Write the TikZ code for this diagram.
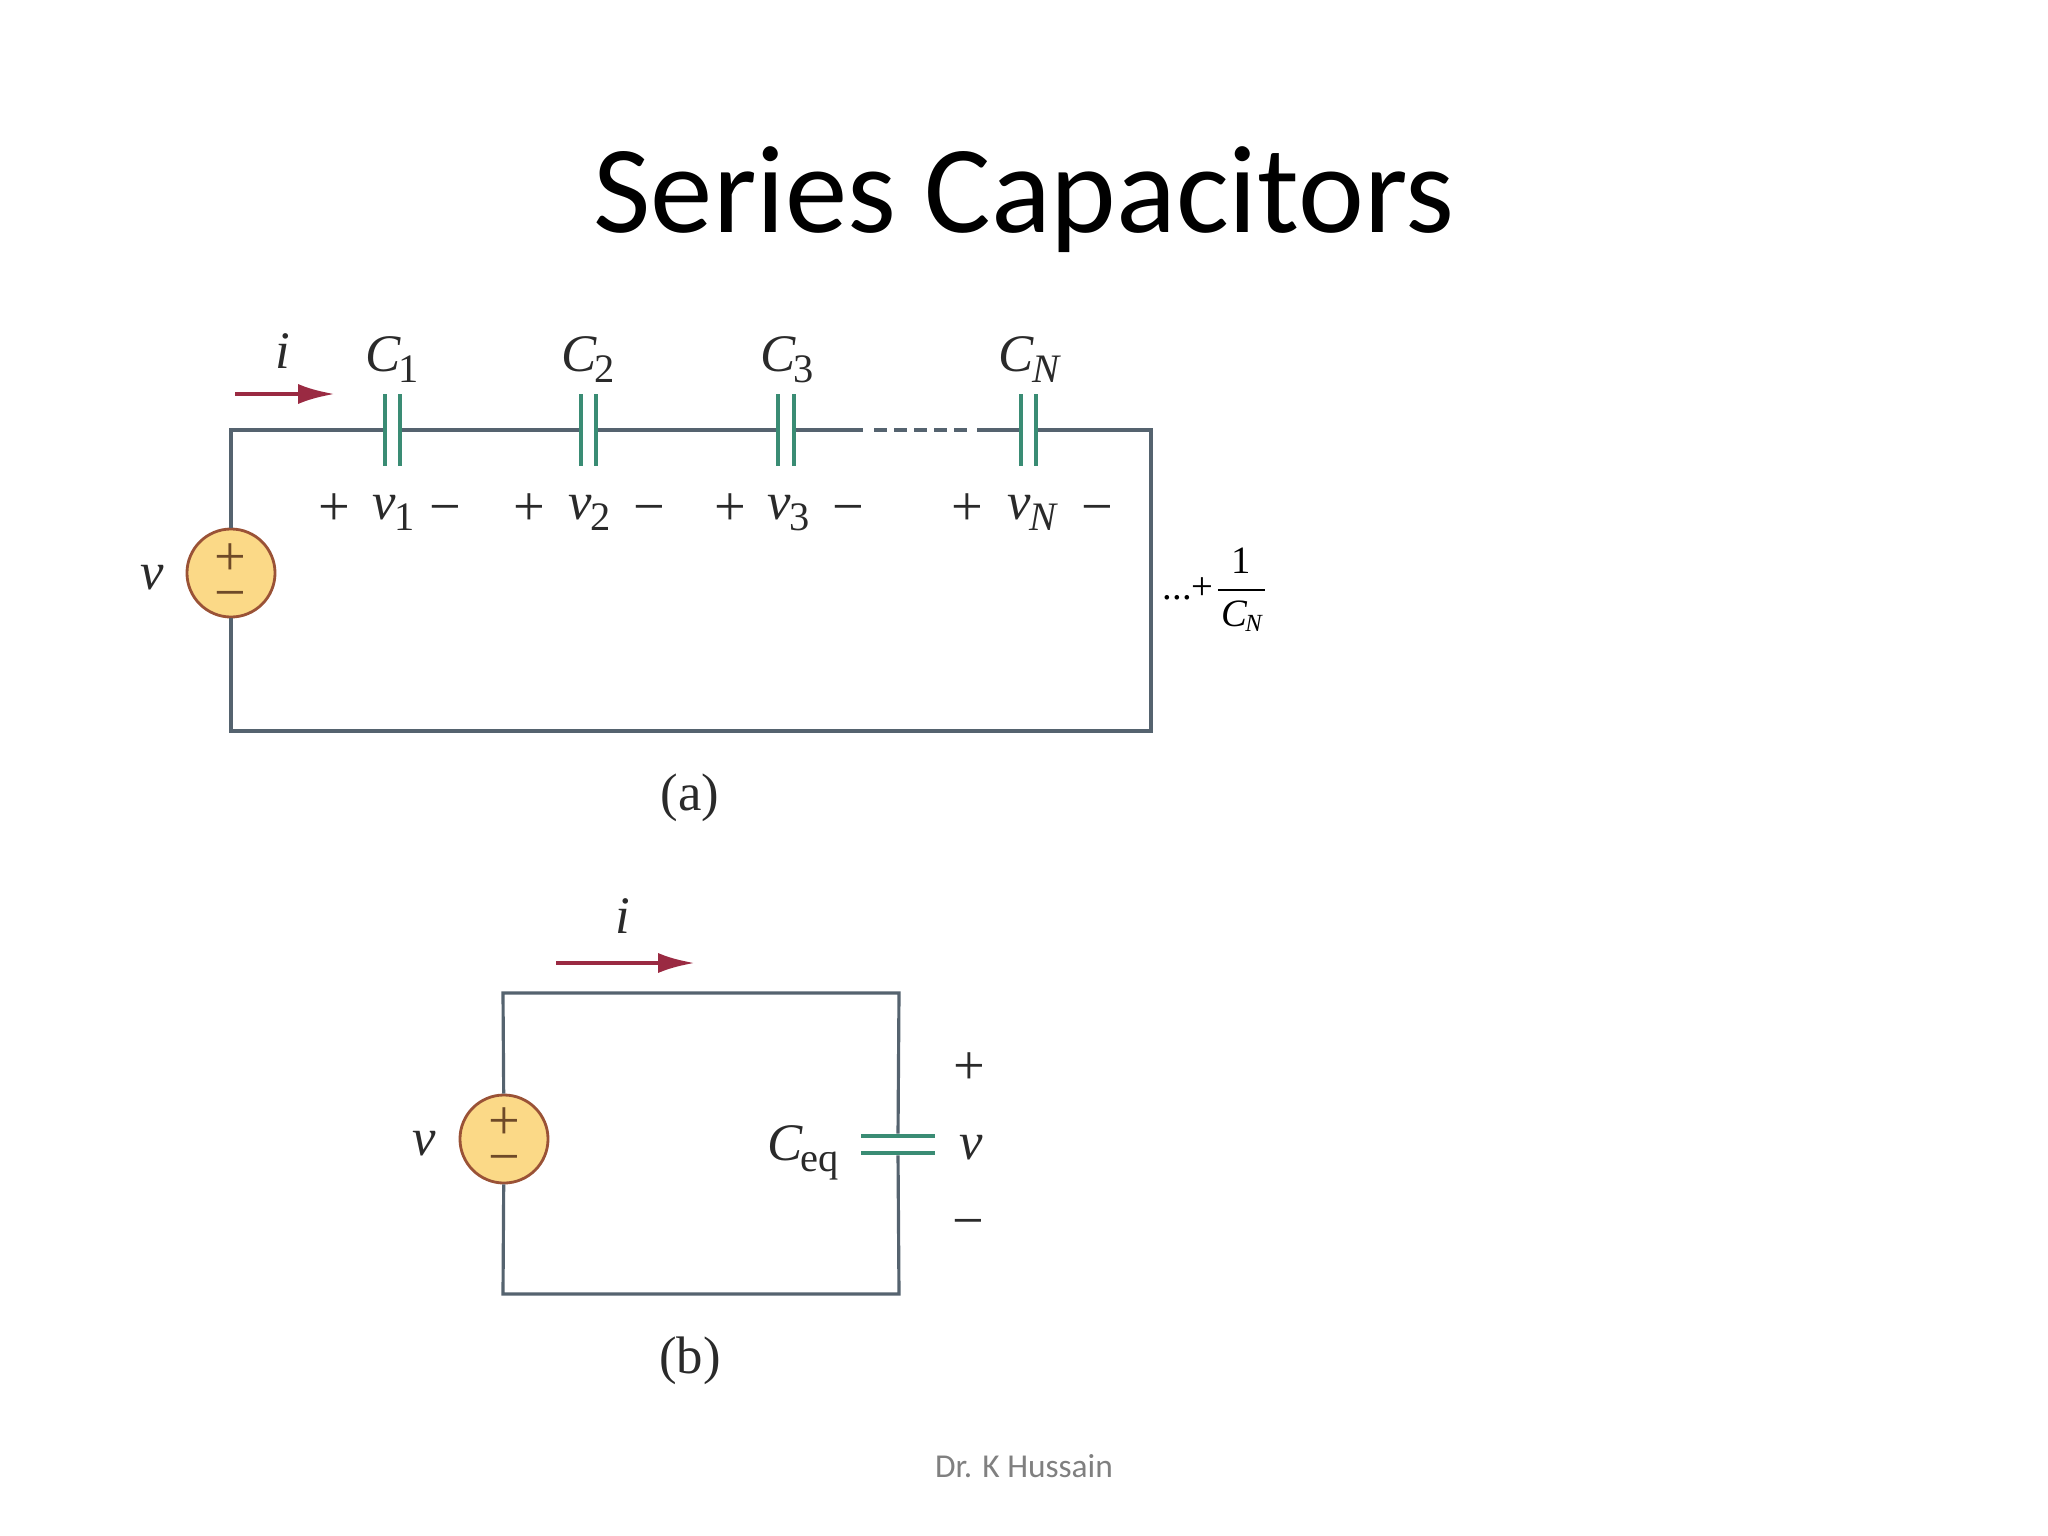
\documentclass[tikz,border=0pt]{standalone}
\usepackage{fontspec}
\setmainfont{Liberation Serif}
\setsansfont{Carlito}
\usetikzlibrary{arrows.meta}
\definecolor{wirecol}{HTML}{55636F}
\definecolor{platecol}{HTML}{3A8C74}
\definecolor{arrowcol}{HTML}{9A2A42}
\definecolor{srcfill}{HTML}{FBD987}
\definecolor{srcline}{HTML}{9A5236}
\definecolor{signcol}{HTML}{6E4A28}
\definecolor{labcol}{HTML}{2A2A2A}
\newcommand{\symsub}[2]{{\itshape #1}\kern-0.4pt\raisebox{-3.3pt}{\fontsize{11.5}{12}\selectfont #2}}
\newcommand{\srcsigns}{\vbox{\offinterlineskip\hbox to 10pt{\hss\smash{+}\hss}\kern10pt\hbox to 10pt{\hss\smash{−}\hss}}}
\tikzset{
  wire/.style={draw=wirecol,line width=0.9pt,line join=miter},
  vplate/.style={fill=platecol,inner sep=0pt,minimum width=0.9pt,minimum height=72*0.2845pt},
  hplate/.style={fill=platecol,inner sep=0pt,minimum height=0.9pt,minimum width=73*0.2845pt},
  source/.style={circle,draw=srcline,fill=srcfill,line width=0.8pt,inner sep=0pt,minimum size=88*0.2845pt},
  lab/.style={inner sep=0pt,anchor=base,text=labcol,font=\fontsize{15}{18}\selectfont},
  sgn/.style={inner sep=0pt,anchor=base,text=labcol,font=\fontsize{16}{18}\selectfont},
  srcsgn/.style={sgn,text=signcol},
  current/.style={-{Latex[length=10.5pt,width=5.7pt]},arrowcol,line width=1.3pt},
}
\begin{document}
\begin{tikzpicture}[x=0.01cm,y=-0.01cm]
\useasboundingbox (0,0) rectangle (2048,1536);
\node[inner sep=0pt,font=\sffamily\fontsize{35.5}{40}\selectfont] (title) at (1024,200) {Series Capacitors};
\node[inner sep=0pt,text=black!50,font=\sffamily\fontsize{9.5}{11}\selectfont] (footer) at (1024,1466) {Dr. K Hussain};
% circuit a
\path
(231,430) coordinate (atl)
(1151,430) coordinate (atr)
(1151,731) coordinate (abr)
(231,731) coordinate (abl)
(863,430) coordinate (dashA)
(874,430) coordinate (dashB)
(968,430) coordinate (dashC)
(977,430) coordinate (dashD)
(235,394) coordinate (arrA)
(335,394) coordinate (arrB);
\node[source] (srcA) at (231,573) {};
\node[srcsgn] (srcAs) at (230,611) {\srcsigns};
\node[vplate] (c1a) at (385,430) {};
\node[vplate] (c1b) at (400,430) {};
\node[vplate] (c2a) at (581,430) {};
\node[vplate] (c2b) at (596,430) {};
\node[vplate] (c3a) at (778,430) {};
\node[vplate] (c3b) at (794,430) {};
\node[vplate] (cNa) at (1021,430) {};
\node[vplate] (cNb) at (1036,430) {};
\draw[wire] (srcA) -- (atl) -- (c1a);
\draw[wire] (c1b) -- (c2a);
\draw[wire] (c2b) -- (c3a);
\draw[wire] (c3b) -- (dashA);
\draw[wire,dash pattern=on 3.7pt off 2pt] (dashB) -- (dashC);
\draw[wire] (dashD) -- (cNa);
\draw[wire] (cNb) -- (atr) -- (abr) -- (abl) -- (srcA);
\draw[current] (arrA) -- (arrB);
\node[lab] (iA) at (283,368) {\itshape i};
\node[lab] (C1) at (392,371) {\symsub{C}{1}};
\node[lab] (C2) at (588,371) {\symsub{C}{2}};
\node[lab] (C3) at (787,371) {\symsub{C}{3}};
\node[lab] (CN) at (1029,371) {\symsub{C}{\itshape N}};
\node[sgn] (p1) at (334,525) {+};
\node[lab] (v1) at (394,519) {\symsub{v}{1}};
\node[sgn] (m1) at (445,525) {−};
\node[sgn] (p2) at (529,525) {+};
\node[lab] (v2) at (590,519) {\symsub{v}{2}};
\node[sgn] (m2) at (649,525) {−};
\node[sgn] (p3) at (730,525) {+};
\node[lab] (v3) at (789,519) {\symsub{v}{3}};
\node[sgn] (m3) at (848,525) {−};
\node[sgn] (pN) at (967,525) {+};
\node[lab] (vN) at (1032,519) {\symsub{v}{\itshape N}};
\node[sgn] (mN) at (1097,525) {−};
\node[lab] (vA) at (152,589) {\itshape v};
\node[lab] (capA) at (690,810) {(a)};
\node[inner sep=0pt,anchor=west,font=\fontsize{11}{13}\selectfont] (frac) at (1162,590) {...+$\displaystyle\frac{\hbox{1}}{\hbox{\kern1pt\itshape C\kern-0.5pt\raisebox{-1.6pt}{\fontsize{7}{8}\selectfont N}\kern1pt}}$};
% circuit b
\path
(503,993) coordinate (btl)
(899,993) coordinate (btr)
(899,1294) coordinate (bbr)
(503,1294) coordinate (bbl)
(556,963) coordinate (arrC)
(695,963) coordinate (arrD);
\node[source] (srcB) at (504,1139) {};
\node[srcsgn] (srcBs) at (504,1175) {\srcsigns};
\node[hplate] (ceqa) at (898,1136) {};
\node[hplate] (ceqb) at (898,1153) {};
\draw[wire] (srcB) -- (btl) -- (btr) -- (ceqa);
\draw[wire] (ceqb) -- (bbr) -- (bbl) -- (srcB);
\draw[current] (arrC) -- (arrD);
\node[lab] (iB) at (623,933) {\itshape i};
\node[lab] (vB) at (424,1155) {\itshape v};
\node[lab] (Ceq) at (803,1160) {\symsub{C}{eq}};
\node[sgn] (pB) at (969,1084) {+};
\node[lab] (vC) at (971,1159) {\itshape v};
\node[sgn] (mB) at (968,1239) {−};
\node[lab] (capB) at (690,1373) {(b)};
\end{tikzpicture}
\end{document}
